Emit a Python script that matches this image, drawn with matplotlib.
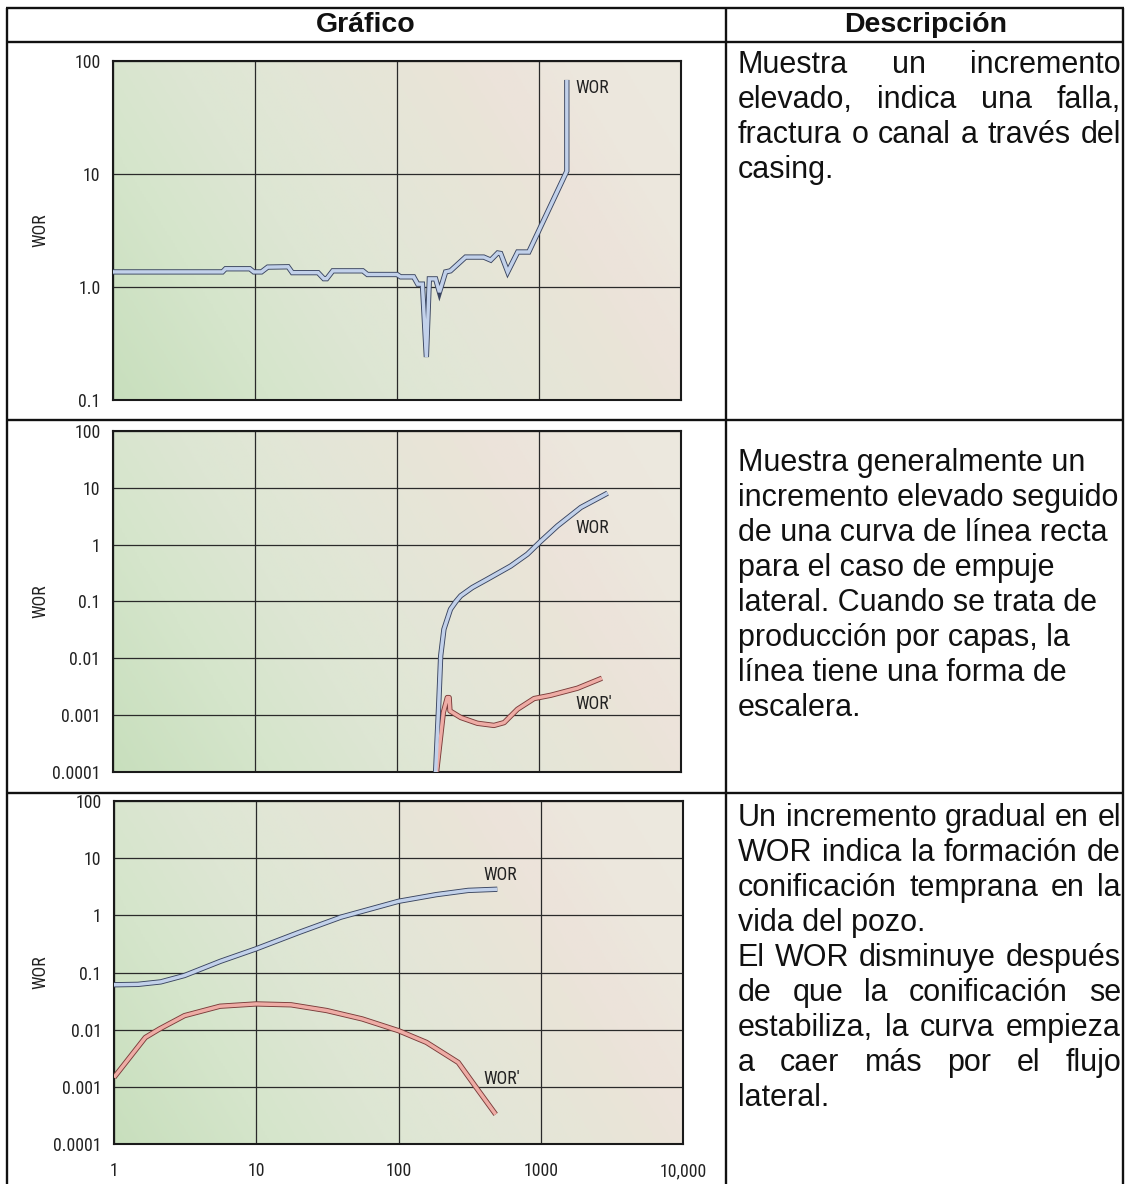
import matplotlib
matplotlib.use("Agg")
import matplotlib.pyplot as plt
import numpy as np
from matplotlib import font_manager as fm
from matplotlib.colors import LinearSegmentedColormap
from matplotlib.lines import Line2D

W, H, DPI = 1125, 1184, 100

# ---------------- data ----------------
# Panel 1: casing leak / channel behind pipe
t1 = [1, 5.9, 6.2, 9.2, 9.8, 11.1, 12.3, 17.1, 18.3, 27.8, 30.5, 32, 35.3, 57.5,
      61.9, 100, 106, 131, 140, 151, 161, 169, 187, 199, 220, 238, 304, 408,
      457, 512, 537, 602, 708, 847, 1570, 1570]
wor1 = [1.36, 1.36, 1.45, 1.45, 1.36, 1.36, 1.50, 1.51, 1.34, 1.34, 1.185, 1.185,
        1.39, 1.39, 1.29, 1.29, 1.23, 1.23, 1.06, 1.06, 0.24, 1.18, 1.18, 0.90,
        1.36, 1.39, 1.84, 1.84, 1.73, 2.0, 1.98, 1.36, 2.04, 2.04, 10.6, 68]

# Panel 2: edge-water / layer production
t2_wor = [187, 197, 203, 214, 238, 260, 281, 339, 433, 631, 828, 1018, 1350,
          1972, 3040]
wor2 = [1e-4, 0.0017, 0.011, 0.0325, 0.073, 0.10, 0.126, 0.176, 0.247, 0.42,
        0.68, 1.12, 2.14, 4.52, 8.07]
t2_der = [190, 212, 226, 233, 236, 281, 368, 482, 568, 705, 923, 1211, 1866, 2773]
der2 = [1e-4, 0.00111, 0.00204, 0.00204, 0.00119, 0.00091, 0.00072, 0.00066,
        0.00074, 0.00127, 0.00196, 0.00224, 0.00298, 0.00447]

# Panel 3: early coning
t3_wor = [1, 1.47, 2.13, 3.13, 5.6, 10, 19.8, 39.4, 100, 184, 309, 495]
wor3 = [0.061, 0.062, 0.0685, 0.0886, 0.157, 0.26, 0.498, 0.93, 1.76, 2.3, 2.73, 2.86]
t3_der = [1, 1.66, 2.09, 3.13, 5.56, 10, 17.6, 31.3, 55.6, 100, 157, 263, 351, 482]
der3 = [0.00146, 0.0073, 0.0103, 0.0176, 0.0257, 0.0282, 0.0272, 0.0216, 0.0154,
        0.0096, 0.006, 0.00267, 0.00098, 0.00033]

x_ticks = [1, 10, 100, 1000, 10000]
x_ticklabels = ["1", "10", "100", "1000", "10,000"]
y_ticks_1 = [0.1, 1, 10, 100]
y_ticklabels_1 = ["0.1", "1.0", "10", "100"]
y_ticks_23 = [1e-4, 1e-3, 1e-2, 1e-1, 1, 10, 100]
y_ticklabels_23 = ["0.0001", "0.001", "0.01", "0.1", "1", "10", "100"]

header_left = "Gráfico"
header_right = "Descripción"

# (line text, justified?)
desc_1 = [("Muestra un incremento", True),
          ("elevado, indica una falla,", True),
          ("fractura o canal a través del", True),
          ("casing.", False)]
desc_2 = [("Muestra generalmente un", False),
          ("incremento elevado seguido", False),
          ("de una curva de línea recta", False),
          ("para el caso de empuje", False),
          ("lateral. Cuando se trata de", False),
          ("producción por capas, la", False),
          ("línea tiene una forma de", False),
          ("escalera.", False)]
desc_3 = [("Un incremento gradual en el", True),
          ("WOR indica la formación de", True),
          ("conificación temprana en la", True),
          ("vida del pozo.", False),
          ("El WOR disminuye después", True),
          ("de que la conificación se", True),
          ("estabiliza, la curva empieza", True),
          ("a caer más por el flujo", True),
          ("lateral.", False)]

# ---------------- fonts ----------------
# chart annotations use a narrow sans if one is installed
_names = {f.name for f in fm.fontManager.ttflist}
_narrow = None
for cand in ["Liberation Sans Narrow", "Arial Narrow", "Roboto Condensed",
             "DejaVu Sans Condensed", "Open Sans Condensed", "Noto Sans Condensed"]:
    if cand in _names:
        _narrow = cand
        break
if _narrow is None:
    for f in fm.fontManager.ttflist:
        if ("Narrow" in f.name or "Condensed" in f.name) and f.weight in (400, "normal", "regular"):
            _narrow = f.name
            break
chart_stretch = "normal"
if _narrow is None:
    _narrow = "DejaVu Sans"
    if any(f.name == "DejaVu Sans" and f.stretch in ("condensed", "semi-condensed")
           for f in fm.fontManager.ttflist):
        chart_stretch = "condensed"
    else:
        _narrow = "Liberation Sans"
chart_font = [_narrow, "Liberation Sans", "DejaVu Sans"]
CHART_FS = 12.8 if _narrow != "Liberation Sans" else 11.5
chart_txt = dict(family=chart_font, fontsize=CHART_FS, color="#222222",
                 fontstretch=chart_stretch)

# ---------------- figure ----------------
fig = plt.figure(figsize=(W / DPI, H / DPI), dpi=DPI)
fig.patch.set_facecolor("white")


def fx(x):
    return x / W


def fy(y):
    return 1 - y / H


def rect(l, t, r, b):
    return [fx(l), fy(b), (r - l) / W, (b - t) / H]


def seg(x0, y0, x1, y1, lw=1.7):
    fig.add_artist(Line2D([fx(x0), fx(x1)], [fy(y0), fy(y1)],
                          transform=fig.transFigure, color="#111111", lw=lw,
                          solid_capstyle="butt"))


# table rules
TL, TR, TD, TT = 7, 1123, 726, 8
seg(TL - 1, TT, TR + 1, TT)
seg(TL, 42, TR, 42)
seg(TL, 420, TR, 420)
seg(TL, 793, TR, 793)
seg(TL, TT, TL, H)
seg(TD, TT, TD, H)
seg(TR, TT, TR, H)

body_font = dict(family=["Liberation Sans", "DejaVu Sans"], size=22, color="#111111")
head_font = dict(family=["Liberation Sans", "DejaVu Sans"], size=20.5,
                 weight="bold", color="#111111")

fig.text(fx(366), fy(25), header_left, ha="center", va="center", **head_font)
fig.text(fx(926), fy(25), header_right, ha="center", va="center", **head_font)

# background gradient: green at lower left fading to warm beige at upper right,
# with a faint rosy band near the right edge
bg_cmap = LinearSegmentedColormap.from_list("bg", [
    (0.00, "#c8dfbd"), (0.20, "#d5e5cb"), (0.35, "#dde6d3"), (0.50, "#e3e6d7"),
    (0.62, "#e7e5d7"), (0.70, "#eae4d8"), (0.74, "#ece3da"), (0.78, "#ece4db"),
    (0.85, "#ece7dd"), (1.00, "#ede9df")])


def make_panel(l, t, r, b, yticks, ylabels, show_x):
    pos = rect(l, t, r, b)
    bg = fig.add_axes(pos, zorder=0)
    pw, ph = r - l, b - t
    xx, yy = np.meshgrid(np.linspace(0, pw, 300), np.linspace(0, ph, 200))
    shade = (322 * xx + 198 * yy) / (322 * pw + 198 * ph)
    bg.imshow(shade, cmap=bg_cmap, origin="lower", aspect="auto",
              extent=[0, 1, 0, 1], interpolation="bilinear")
    bg.axis("off")

    ax = fig.add_axes(pos, zorder=1)
    ax.patch.set_alpha(0)
    ax.set_xscale("log")
    ax.set_yscale("log")
    ax.set_xlim(1, 1e4)
    ax.set_ylim(yticks[0], yticks[-1])
    ax.set_xticks(x_ticks)
    ax.set_yticks(yticks)
    ax.minorticks_off()
    ax.set_yticklabels(ylabels, **chart_txt)
    if show_x:
        ax.set_xticklabels(x_ticklabels, **chart_txt)
    else:
        ax.set_xticklabels([])
    ax.tick_params(axis="y", length=0, pad=9)
    ax.tick_params(axis="x", length=0, pad=13)
    ax.grid(True, which="major", color="#2a2a2a", lw=0.9)
    ax.set_axisbelow(True)
    for s in ax.spines.values():
        s.set_color("#1a1a1a")
        s.set_linewidth(1.5)
    fig.text(fx(40), fy((t + b) / 2), "WOR", rotation=90, ha="center",
             va="center", **chart_txt)
    return ax


def cased(ax, x, y, inner, outer, join="round"):
    ax.plot(x, y, color=outer, lw=3.8, solid_joinstyle=join,
            solid_capstyle="butt", zorder=3, clip_on=True)
    ax.plot(x, y, color=inner, lw=2.5, solid_joinstyle=join,
            solid_capstyle="butt", zorder=4, clip_on=True)


BLUE_IN, BLUE_OUT = "#c2d1ea", "#3a4560"
RED_IN, RED_OUT = "#eeaca5", "#7a3c3a"

ax1 = make_panel(113, 61, 681, 400, y_ticks_1, y_ticklabels_1, False)
cased(ax1, t1, wor1, BLUE_IN, BLUE_OUT, join="miter")
ax1.text(1816, 57.7, "WOR", ha="left", va="center", **chart_txt)

ax2 = make_panel(113, 431, 681, 772, y_ticks_23, y_ticklabels_23, False)
cased(ax2, t2_der, der2, RED_IN, RED_OUT)
cased(ax2, t2_wor, wor2, BLUE_IN, BLUE_OUT)
ax2.text(1816, 1.93, "WOR", ha="left", va="center", **chart_txt)
ax2.text(1816, 0.00156, "WOR'", ha="left", va="center", **chart_txt)

ax3 = make_panel(114, 801, 683, 1144, y_ticks_23, y_ticklabels_23, True)
cased(ax3, t3_wor, wor3, BLUE_IN, BLUE_OUT)
cased(ax3, t3_der, der3, RED_IN, RED_OUT)
ax3.text(394, 5.0, "WOR", ha="left", va="center", **chart_txt)
ax3.text(394, 0.00136, "WOR'", ha="left", va="center", **chart_txt)

# description column, justified like the source document
renderer = fig.canvas.get_renderer()
X0, X1, LEAD = 738, 1121, 35.0


def put_lines(lines, first_base):
    for i, (txt, just) in enumerate(lines):
        yb = fy(first_base + i * LEAD)
        words = txt.split()
        if not just or len(words) < 2:
            fig.text(fx(X0), yb, txt, ha="left", va="baseline", **body_font)
            continue
        arts = [fig.text(0, yb, w, ha="left", va="baseline", **body_font)
                for w in words]
        widths = [a.get_window_extent(renderer).width for a in arts]
        gap = (X1 - X0 - sum(widths)) / (len(words) - 1)
        x = X0
        for a, w in zip(arts, widths):
            a.set_x(fx(x))
            x += w + gap


put_lines(desc_1, 73)
put_lines(desc_2, 471)
put_lines(desc_3, 826)

fig.savefig("out.png", dpi=DPI, facecolor="white")
